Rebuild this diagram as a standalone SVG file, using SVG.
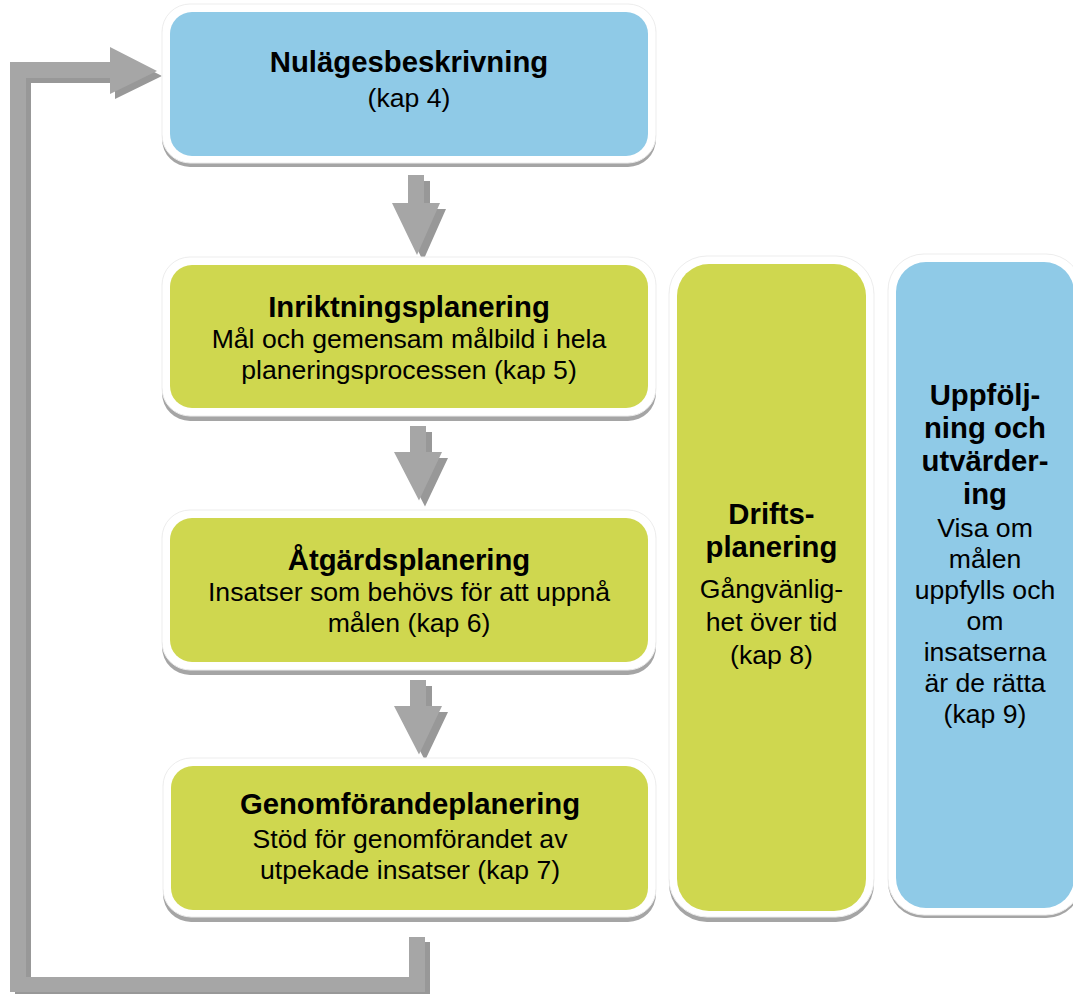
<svg xmlns="http://www.w3.org/2000/svg" width="1073" height="994" viewBox="0 0 1073 994">
<style>
.frame{fill:#ffffff;stroke:#ededed;stroke-width:1}
.shadow{fill:#a5a5a5}
.blue{fill:#8fcae7}
.green{fill:#cfd74f}
.t{font-family:"Liberation Sans",Arial,sans-serif;fill:#000;text-anchor:middle}
.b{font-weight:bold;font-size:29.3px}
.r{font-size:26.6px}
.arr{fill:#a6a6a6}
.arrs{fill:#989898}
</style>
<defs>
<path id="down" d="M-8,0 H8 V28 H24 L1,80 L-24,28 H-8 Z"/>
</defs>
<rect width="1073" height="994" fill="#ffffff"/>
<g id="connectors">
<g id="loop">
<path class="arrs" transform="translate(5,5)" d="M409,937 H425 V992 H10 V62 H110 V47 L157,71 L110,94 V78 H26 V977 H409 Z"/>
<path class="arr" d="M409,937 H425 V992 H10 V62 H110 V47 L157,71 L110,94 V78 H26 V977 H409 Z"/>
</g>
<g id="a1">
<use href="#down" class="arrs" transform="translate(422,181)"/>
<use href="#down" class="arr" transform="translate(416,175)"/>
</g>
<g id="a2">
<use href="#down" class="arrs" transform="translate(424,432) scale(1,0.93)"/>
<use href="#down" class="arr" transform="translate(418,426) scale(1,0.93)"/>
</g>
<g id="a3">
<use href="#down" class="arrs" transform="translate(424,686) scale(1,0.93)"/>
<use href="#down" class="arr" transform="translate(418,680) scale(1,0.93)"/>
</g>
</g>
<g id="nulage">
<rect class="shadow" x="162" y="8" width="494" height="159" rx="28"/>
<rect class="frame" x="162" y="4" width="494" height="159" rx="28"/>
<rect class="blue" x="170" y="12" width="478" height="144" rx="22"/>
<text class="t b" x="409" y="72">Nulägesbeskrivning</text>
<text class="t r" x="409" y="107">(kap 4)</text>
</g>
<g id="inriktning">
<rect class="shadow" x="162" y="262" width="494" height="159" rx="28"/>
<rect class="frame" x="162" y="257" width="494" height="159" rx="28"/>
<rect class="green" x="170" y="265" width="478" height="143" rx="22"/>
<text class="t b" x="409" y="317">Inriktningsplanering</text>
<text class="t r" x="409" y="348">Mål och gemensam målbild i hela</text>
<text class="t r" x="409" y="379">planeringsprocessen (kap 5)</text>
</g>
<g id="atgard">
<rect class="shadow" x="162" y="515" width="494" height="160" rx="28"/>
<rect class="frame" x="162" y="510" width="494" height="160" rx="28"/>
<rect class="green" x="170" y="518" width="478" height="144" rx="22"/>
<text class="t b" x="409" y="570">Åtgärdsplanering</text>
<text class="t r" x="409" y="601">Insatser som behövs för att uppnå</text>
<text class="t r" x="409" y="632">målen (kap 6)</text>
</g>
<g id="genomforande">
<rect class="shadow" x="163" y="763" width="493" height="159" rx="28"/>
<rect class="frame" x="163" y="758" width="493" height="159" rx="28"/>
<rect class="green" x="171" y="766" width="477" height="144" rx="22"/>
<text class="t b" x="410" y="814">Genomförandeplanering</text>
<text class="t r" x="410" y="848">Stöd för genomförandet av</text>
<text class="t r" x="410" y="879">utpekade insatser (kap 7)</text>
</g>
<g id="drift">
<rect class="shadow" x="669" y="261" width="205" height="661" rx="38"/>
<rect class="frame" x="669" y="256" width="205" height="661" rx="38"/>
<rect class="green" x="677" y="264" width="189" height="647" rx="32"/>
<text class="t b" x="771.5" y="524">Drifts-</text>
<text class="t b" x="771.5" y="557">planering</text>
<text class="t r" x="771.5" y="598">Gångvänlig-</text>
<text class="t r" x="771.5" y="631">het över tid</text>
<text class="t r" x="771.5" y="664">(kap 8)</text>
</g>
<g id="uppfoljning">
<rect class="shadow" x="888" y="258" width="194" height="660" rx="36"/>
<rect class="frame" x="888" y="254" width="194" height="661" rx="36"/>
<rect class="blue" x="896" y="262" width="178" height="646" rx="30"/>
<text class="t b" x="985" y="405">Uppfölj-</text>
<text class="t b" x="985" y="438">ning och</text>
<text class="t b" x="985" y="471">utvärder-</text>
<text class="t b" x="985" y="504">ing</text>
<text class="t r" x="985" y="537">Visa om</text>
<text class="t r" x="985" y="568">målen</text>
<text class="t r" x="985" y="599">uppfylls och</text>
<text class="t r" x="985" y="630">om</text>
<text class="t r" x="985" y="661">insatserna</text>
<text class="t r" x="985" y="692">är de rätta</text>
<text class="t r" x="985" y="723">(kap 9)</text>
</g>
</svg>
